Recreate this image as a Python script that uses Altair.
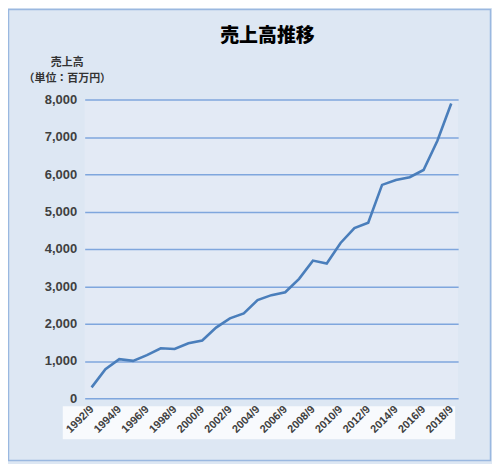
import altair as alt
import pandas as pd

periods = ["1992/9", "1993/9", "1994/9", "1995/9", "1996/9", "1997/9", "1998/9",
           "1999/9", "2000/9", "2001/9", "2002/9", "2003/9", "2004/9", "2005/9",
           "2006/9", "2007/9", "2008/9", "2009/9", "2010/9", "2011/9", "2012/9",
           "2013/9", "2014/9", "2015/9", "2016/9", "2017/9", "2018/9"]
sales = [293, 781, 1048, 1003, 1155, 1341, 1323, 1475, 1547, 1893, 2141, 2275,
         2630, 2763, 2840, 3200, 3688, 3608, 4160, 4560, 4701, 5715, 5848, 5920,
         6115, 6896, 7893]
label_periods = ["1992/9", "1994/9", "1996/9", "1998/9", "2000/9", "2002/9", "2004/9",
                 "2006/9", "2008/9", "2010/9", "2012/9", "2014/9", "2016/9", "2018/9"]
y_ticks = [0, 1000, 2000, 3000, 4000, 5000, 6000, 7000, 8000]

df = pd.DataFrame({"期": periods, "売上高": sales})
one = pd.DataFrame({"k": [0]})

JP = "Noto Sans CJK JP"
NUM = "Liberation Sans"

line = alt.Chart(df).mark_line(color="#4a7ebb", strokeWidth=2.6).encode(
    x=alt.X("期:O", sort=None,
            scale=alt.Scale(type="point", padding=0.5),
            axis=alt.Axis(values=label_periods, labelAngle=-45, labelAlign="right",
                          labelBaseline="middle", labelFont=NUM, labelFontSize=11,
                          labelFontWeight="bold", labelColor="#404040", labelPadding=9,
                          ticks=False, domain=False, grid=False, title=None, zindex=1)),
    y=alt.Y("売上高:Q",
            scale=alt.Scale(domain=[0, 8000], nice=False),
            axis=alt.Axis(values=y_ticks, format=",.0f", grid=True, gridColor="#7fa6dd",
                          gridWidth=1.5, domain=False, ticks=False, labelPadding=8,
                          labelFont=NUM, labelFontSize=13, labelFontWeight="bold",
                          labelColor="#404040",
                          title=["売上高", "（単位：百万円）"], titleAngle=0,
                          titleAlign="center", titleBaseline="middle",
                          titleX=-18, titleY=-37, titleFont=JP, titleFontSize=11,
                          titleFontWeight="bold", titleColor="#333333",
                          titleLineHeight=16)),
)

strip = alt.Chart(one).mark_rect(color="white", opacity=0.8).encode(
    x=alt.value(-22), x2=alt.value(372), y=alt.value(308), y2=alt.value(341)
)

border = alt.Chart(one).mark_rect(fillOpacity=0, stroke="#9ab8e0", strokeWidth=1.5).encode(
    x=alt.value(-76.5), x2=alt.value(407.5), y=alt.value(-90.5), y2=alt.value(362.5)
)

chart = alt.layer(border, strip, line).properties(
    width=375,
    height=300,
    title=alt.Title("売上高推移", font=JP, fontSize=19, fontWeight=900,
                    color="#000000", anchor="middle", frame="group", offset=-37,
                    dx=-4),
    autosize=alt.AutoSizeParams(type="none"),
    padding={"left": 77, "top": 91, "right": 34, "bottom": 65},
    background="#dde7f3",
).configure_view(fill="#e3eaf5", strokeWidth=0)

chart.save("out.html", embed_options={"renderer": "svg", "actions": False})
